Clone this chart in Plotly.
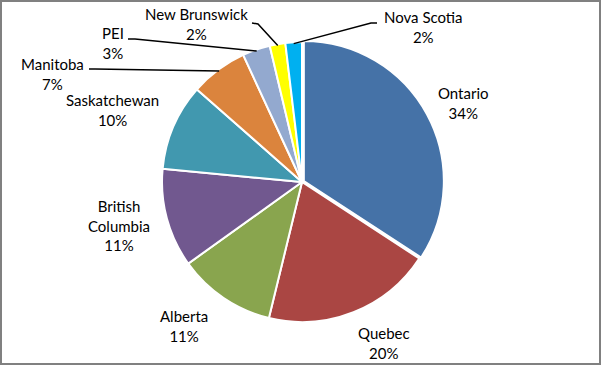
import math
import plotly.graph_objects as go

# ---- data ----
provinces = ["Ontario", "Quebec", "Alberta", "British Columbia", "Saskatchewan",
             "Manitoba", "PEI", "New Brunswick", "Nova Scotia"]
shares = [34.2, 19.6, 11.3, 11.4, 10.0, 6.6, 3.2, 1.8, 1.9]
label_text = ["Ontario", "Quebec", "Alberta", "British<br>Columbia", "Saskatchewan",
              "Manitoba", "PEI", "New Brunswick", "Nova Scotia"]
colors = ["#4572A7", "#AA4643", "#89A54E", "#71588F", "#4198AF",
          "#DB843D", "#93A9CF", "#FFFF00", "#00B0F0"]

# ---- layout / style ----
W, H = 602, 366
CX, CY, R = 302, 182, 140
PULL = 0.015
FONT = dict(family="Lato, 'Open Sans', sans-serif", size=15, color="#000000")

# label centre positions (pixels) and leader-line start points
label_pos = {
    "Ontario": (463, 103), "Quebec": (384, 343), "Alberta": (184, 326),
    "British Columbia": (119, 225), "Saskatchewan": (112, 110),
    "Manitoba": (53, 74), "PEI": (113, 43), "New Brunswick": (196, 24),
    "Nova Scotia": (424, 27),
}
leader_start = {
    "Manitoba": [(89, 69), (95, 69)],
    "PEI": [(128, 39), (135, 39)],
    "New Brunswick": [(252, 23), (258, 24)],
    "Nova Scotia": [(377, 23), (371, 23)],
}


def px2paper(x, y):
    return x / W, 1 - y / H


half = R * (1 + PULL)
fig = go.Figure(go.Pie(
    labels=provinces, values=shares, sort=False, direction="clockwise",
    rotation=0, marker=dict(colors=colors, line=dict(color="white", width=2)),
    pull=[PULL] + [0] * (len(shares) - 1),
    textinfo="none", hoverinfo="label+percent", showlegend=False,
    domain=dict(x=[(CX - half) / W, (CX + half) / W],
                y=[1 - (CY + half) / H, 1 - (CY - half) / H]),
))

total = sum(shares)
annotations = []
shapes = []
cum = 0.0
for name, txt, v in zip(provinces, label_text, shares):
    mid = (cum + v / 2) / total * 2 * math.pi
    cum += v
    pct = round(v / total * 100)
    lx, ly = label_pos[name]
    px, py = px2paper(lx, ly)
    annotations.append(dict(x=px, y=py, xref="paper", yref="paper",
                            xanchor="center", yanchor="middle",
                            text=f"{txt}<br>{pct}%", showarrow=False,
                            font=FONT, align="center"))
    if name in leader_start:
        ex = CX + R * 0.99 * math.sin(mid)
        ey = CY - R * 0.99 * math.cos(mid)
        pts = leader_start[name] + [(ex, ey)]
        path = ""
        for i, (x, y) in enumerate(pts):
            X, Y = px2paper(x, y)
            path += ("M" if i == 0 else "L") + f"{X:.5f},{Y:.5f} "
        shapes.append(dict(type="path", path=path, xref="paper", yref="paper",
                           line=dict(color="#000000", width=1.5)))

shapes.append(dict(type="rect", xref="paper", yref="paper",
                   x0=1 / W, x1=1 - 2 / W, y0=2 / H, y1=1 - 1 / H,
                   line=dict(color="#808080", width=2)))

fig.update_layout(width=W, height=H, margin=dict(l=0, r=0, t=0, b=0),
                  paper_bgcolor="white", plot_bgcolor="white",
                  annotations=annotations, shapes=shapes)
fig.write_html("out.html", config={"displayModeBar": False},
               post_script="document.body.style.margin='0';document.body.style.padding='0';")
